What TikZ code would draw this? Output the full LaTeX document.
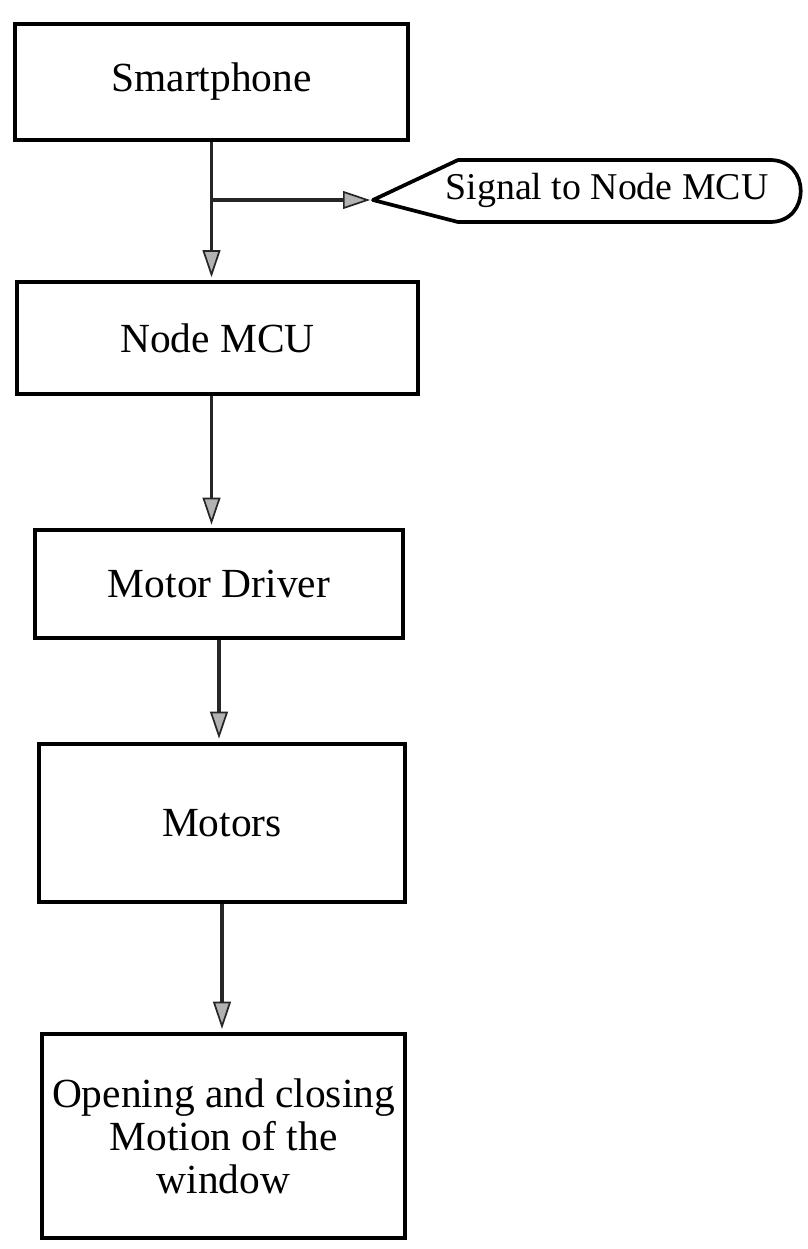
\documentclass[tikz,border=0pt]{standalone}
\usepackage{fontspec}
\setmainfont{Liberation Serif}
\usetikzlibrary{arrows.meta}

\begin{document}
\begin{tikzpicture}[x=0.7pt,y=-0.7pt,
    blok/.style={draw,line width=3pt,inner sep=0pt,align=center,
      font=\fontsize{29}{30.1}\selectfont},
    pijl/.style={draw=black!85,line width=2.6pt,shorten >=2pt,
      -{Triangle[length=19pt,width=12.5pt,fill=gray!60,line width=1.2pt]}}
  ]
  \useasboundingbox (0,0) rectangle (808,1249);
  \node[blok,minimum width=275pt,minimum height=81pt] (phone) at (211.5,82) {Smartphone};
  \node[blok,minimum width=281pt,minimum height=78pt] (mcu) at (217.5,338) {Node MCU};
  \node[blok,minimum width=258pt,minimum height=76pt] (driver) at (219,584) {Motor Driver};
  \node[blok,minimum width=256pt,minimum height=111pt] (motors) at (222,823) {Motors};
  \node[blok,minimum width=254pt,minimum height=143pt] (window) at (223.5,1136)
    {Opening and closing\\Motion of the\\window};

  \node[inner sep=0pt,font=\fontsize{26.5}{28}\selectfont] (sig) at (607,190) {Signal to Node MCU};
  \coordinate (tip) at (373,200);
  \draw[line width=2.6pt,line join=round] (tip) -- (458,160) -- (770,160)
    .. controls (811,160) and (811,222) .. (770,222) -- (458,222) -- cycle;

  \draw[pijl] (phone.south) -- (phone.south |- mcu.north);
  \draw[pijl] (phone.south |- tip) -- (tip);
  \draw[pijl] (mcu.south -| phone.south) -- (phone.south |- driver.north);
  \draw[pijl] (driver.south) -- (driver.south |- motors.north);
  \draw[pijl] (motors.south) -- (motors.south |- window.north);
\end{tikzpicture}
\end{document}
